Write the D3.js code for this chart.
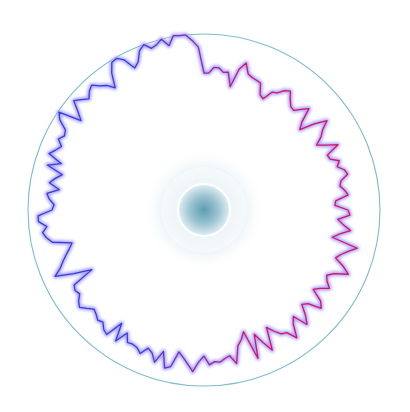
<!DOCTYPE html>
<html>
<head>
<meta charset="utf-8">
<script src="https://cdn.jsdelivr.net/npm/d3@7"></script>
<style>
  body { margin: 0; background: #fff; }
</style>
</head>
<body>
<div id="chart"></div>
<script>
// radius readings, one every 2 degrees, clockwise from 12 o'clock
var values = [
  137,137,143,143,139,140,126,145,153,143,141,140,139,128,126,136,138,144,147,140,
  135,134,140,146,132,125,140,152,143,138,130,138,149,135,136,144,140,146,148,140,
  138,142,145,132,131,144,146,134,140,148,138,131,158,150,144,140,150,158,145,139,
  142,148,140,135,148,153,140,136,146,154,139,145,158,148,146,140,133,156,145,134,
  158,128,135,140,157,148,150,153,152,155,146,152,162,155,149,144,160,163,147,160,
  152,149,157,153,152,153,145,158,140,158,156,151,153,150,148,153,158,155,150,152,
  150,127,145,163,155,150,145,140,136,155,160,163,158,166,166,152,150,155,158,146,
  157,152,146,163,150,165,160,156,162,158,160,170,175,152,160,170,165,160,165,168,
  162,158,151,165,174,175,170,158,162,172,176,170,172,176,168,177,176,176,170,163
];
var domainMax = [176];
var lineColors = ["#3b3bdc", "#8a2cb0", "#de1160"];
var glowColor = "#a9a6ff";

var w = 410, h = 412;
var cx = 204, cy = 210;
var outerR = 176;

var svg = d3.select("#chart")
  .append("svg")
  .attr("width", w)
  .attr("height", h);

var defs = svg.append("defs");

var lineGrad = defs.append("linearGradient")
  .attr("id", "lineGrad")
  .attr("gradientUnits", "userSpaceOnUse")
  .attr("x1", -70).attr("y1", 0)
  .attr("x2", 45).attr("y2", 0);
lineGrad.selectAll("stop")
  .data(lineColors)
  .enter()
  .append("stop")
  .attr("offset", function(d, i){ return i / (lineColors.length - 1); })
  .attr("stop-color", function(d){ return d; });

var halo = defs.append("radialGradient").attr("id", "halo");
halo.append("stop").attr("offset", 0).attr("stop-color", "#7fb4c6").attr("stop-opacity", 0.35);
halo.append("stop").attr("offset", 0.7).attr("stop-color", "#9cc6d4").attr("stop-opacity", 0.15);
halo.append("stop").attr("offset", 1).attr("stop-color", "#ffffff").attr("stop-opacity", 0);

var core = defs.append("radialGradient").attr("id", "core");
core.append("stop").attr("offset", 0).attr("stop-color", "#5d9db2");
core.append("stop").attr("offset", 0.55).attr("stop-color", "#9cc4d2");
core.append("stop").attr("offset", 1).attr("stop-color", "#e2eff3");

var blur = defs.append("filter").attr("id", "glow")
  .attr("x", "-20%").attr("y", "-20%").attr("width", "140%").attr("height", "140%");
blur.append("feGaussianBlur").attr("stdDeviation", 1.8);

var g = svg.append("g")
  .attr("transform", "translate(" + cx + "," + cy + ")");

// center glow
g.append("circle").attr("r", 62).attr("fill", "url(#halo)");
g.append("circle").attr("r", 43).attr("fill", "#ffffff").attr("fill-opacity", 0.35);
g.append("circle").attr("r", 26)
  .attr("fill", "url(#core)")
  .attr("stroke", "#ffffff")
  .attr("stroke-width", 2);

// outer ring
g.append("circle")
  .attr("r", outerR)
  .attr("fill", "none")
  .attr("stroke", "#7dbccb")
  .attr("stroke-width", 1.1);

var angle = d3.scaleLinear()
  .domain([0, values.length])
  .range([0, 2 * Math.PI]);

var radius = d3.scaleLinear()
  .domain([0, domainMax[0]])
  .range([0, outerR]);

var line = d3.lineRadial()
  .angle(function(d, i){ return angle(i); })
  .radius(function(d){ return radius(d); })
  .curve(d3.curveLinearClosed);

g.append("path")
  .datum(values)
  .attr("d", line)
  .attr("fill", "none")
  .attr("stroke", glowColor)
  .attr("stroke-width", 4.5)
  .attr("stroke-linejoin", "round")
  .attr("filter", "url(#glow)");

g.append("path")
  .datum(values)
  .attr("d", line)
  .attr("fill", "none")
  .attr("stroke", "url(#lineGrad)")
  .attr("stroke-width", 1.3)
  .attr("stroke-linejoin", "round");
</script>
</body>
</html>
